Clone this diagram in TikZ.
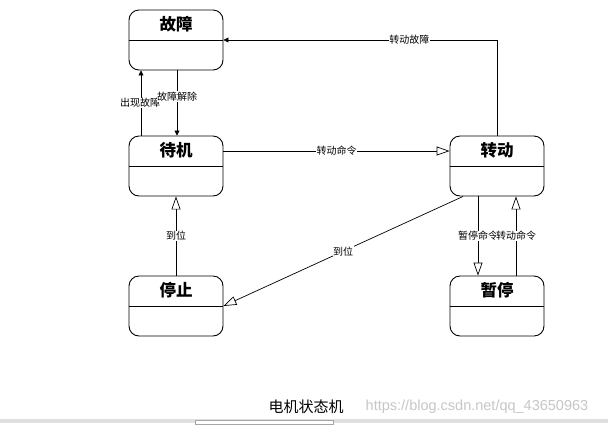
\documentclass[tikz,border=0pt]{standalone}
\usepackage{fontspec}
\setmainfont{Noto Sans CJK SC}
\newfontfamily\wmfont{Liberation Sans}
\usetikzlibrary{arrows.meta}
\begin{document}
\begin{tikzpicture}[x=1pt,y=-1pt,
  state/.style={draw,line width=0.9pt,rounded corners=10pt,minimum width=94pt,minimum height=60pt,inner sep=0pt},
  stitle/.style={font=\fontsize{16.5}{18}\selectfont\bfseries,inner sep=0pt},
  lab/.style={font=\fontsize{10}{12}\selectfont,fill=white,inner sep=0.5pt},
  conn/.style={line width=0.7pt},
  fa/.style={conn,-{Triangle[length=5pt,width=5pt]}},
  oa/.style={conn,-{Triangle[open,length=13pt,width=9pt,fill=white]}}]
\path[fill=white] (0,0) rectangle (608,423);
% states
\node[state] (gz) at (176,40) {};
\node[state] (dj) at (176,166) {};
\node[state] (tz) at (176,306) {};
\node[state] (zd) at (497,166) {};
\node[state] (zt) at (497,306) {};
\foreach \n/\t in {gz/故障,dj/待机,tz/停止,zd/转动,zt/暂停}{
  \draw[line width=0.9pt] (\n.west) -- (\n.east);
  \node[stitle] (\n-t) at ([yshift=-15pt]\n.north) {\t};
}
% transitions
\draw[fa] ([xshift=-35pt]dj.north) -- node[lab,pos=0.5,xshift=-1pt] (l1) {出现故障} ([xshift=-35pt]gz.south);
\draw[fa] ([xshift=1pt]gz.south) -- node[lab,pos=0.4] (l2) {故障解除} ([xshift=1pt]dj.north);
\draw[fa] (zd.north) |- node[lab,pos=0.66] (l3) {转动故障} (gz.east);
\draw[oa] ([yshift=15pt]dj.east) -- node[lab] (l4) {转动命令} ([yshift=15pt]zd.west);
\draw[oa] (tz.north) -- node[lab] (l5) {到位} (dj.south);
\draw[oa] ([xshift=-34pt]zd.south) -- node[lab] (l6) {到位} (tz.east);
\draw[oa] ([xshift=-19pt]zd.south) -- node[lab] (l7) {暂停命令} ([xshift=-19pt]zt.north);
\draw[oa] ([xshift=19pt]zt.north) -- node[lab] (l8) {转动命令} ([xshift=19pt]zd.south);
% caption
\node[font=\fontsize{15}{17}\selectfont,inner sep=0pt] (cap) at (306,407) {电机状态机};
\node[font=\wmfont\fontsize{14.5}{16}\selectfont,text=black!22,inner sep=0pt] (wm) at (477,407) {https://blog.csdn.net/qq\_43650963};
\path[fill=black!12] (0,419) rectangle (608,423);
\path[fill=white,draw=black!35,line width=0.5pt] (195,420) rectangle (333,424);
\end{tikzpicture}
\end{document}
